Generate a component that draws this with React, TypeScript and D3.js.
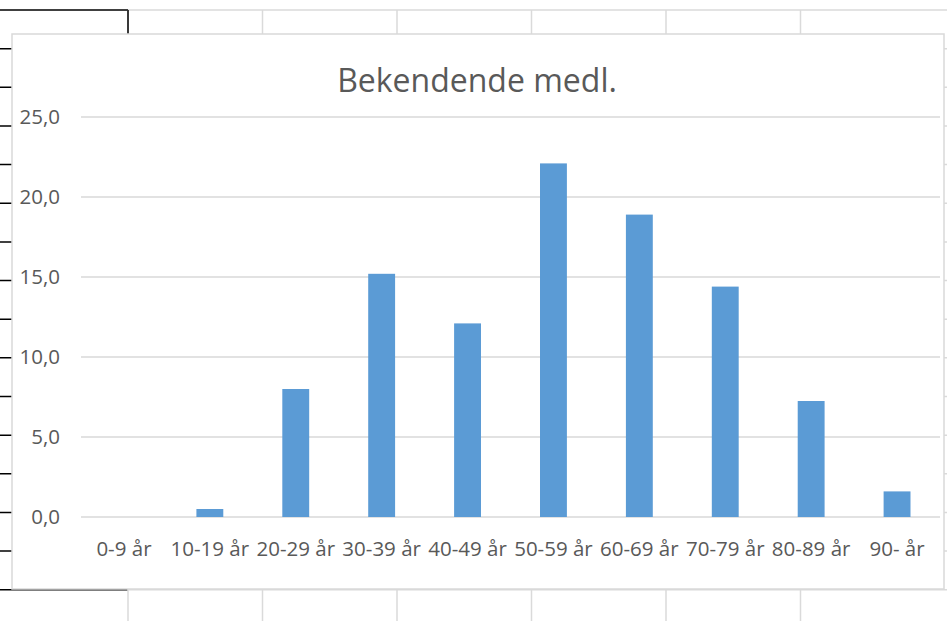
import * as d3 from 'd3';

const categories = ['0-9 år', '10-19 år', '20-29 år', '30-39 år', '40-49 år', '50-59 år', '60-69 år', '70-79 år', '80-89 år', '90- år'];
const values = [0, 0.5, 8.0, 15.2, 12.1, 22.1, 18.9, 14.4, 7.25, 1.6];
const yTicks = [0, 5, 10, 15, 20, 25];
const title = 'Bekendende medl.';

const W = 947;
const H = 621;
const font = '"Open Sans", sans-serif';
const textColor = '#595959';

export default function App() {
  // plot area
  const x = d3.scaleBand<string>().domain(categories).range([81, 940]).paddingInner(0.687).paddingOuter(0.3435);
  const y = d3.scaleLinear().domain([0, 25]).range([517, 117]);

  // spreadsheet grid behind the chart
  const rowYs = d3.range(16).map((i) => 10 + i * 38.65);
  const colXs = d3.range(6).map((i) => 128 + i * 134.5);

  return (
    <svg width={W} height={H} style={{ position: 'fixed', left: 0, top: 0, background: '#fff' }}>
      {rowYs.map((ry) => (
        <g key={ry}>
          <line x1={128} x2={W} y1={ry} y2={ry} stroke='#dadada' strokeWidth={1.5} />
          <line x1={0} x2={128} y1={ry} y2={ry} stroke='#000' strokeWidth={1.5} />
        </g>
      ))}
      {colXs.map((cx) => (
        <line key={cx} x1={cx} x2={cx} y1={10} y2={H} stroke='#dadada' strokeWidth={1.5} />
      ))}
      <line x1={128} x2={128} y1={10} y2={40} stroke='#000' strokeWidth={1.5} />

      {/* chart box */}
      <rect x={12} y={34} width={932} height={555} fill='#fff' stroke='#d9d9d9' strokeWidth={1.5} />

      <text x={477} y={92} textAnchor='middle' fontFamily={font} fontSize={32} fill={textColor}>
        {title}
      </text>

      {yTicks.map((t) => (
        <g key={t}>
          <line x1={81} x2={940} y1={y(t)} y2={y(t)} stroke='#d9d9d9' strokeWidth={1.5} />
          <text x={60} y={y(t)} dy='0.36em' textAnchor='end' fontFamily={font} fontSize={20.5} fill={textColor}>
            {t.toFixed(1).replace('.', ',')}
          </text>
        </g>
      ))}

      {categories.map((c, i) => (
        <rect key={c} x={x(c)} y={y(values[i])} width={x.bandwidth()} height={y(0) - y(values[i])} fill='#5b9bd5' />
      ))}

      {categories.map((c) => (
        <text
          key={c}
          x={(x(c) ?? 0) + x.bandwidth() / 2}
          y={556}
          textAnchor='middle'
          fontFamily={font}
          fontSize={20.5}
          fill={textColor}
        >
          {c}
        </text>
      ))}
    </svg>
  );
}
